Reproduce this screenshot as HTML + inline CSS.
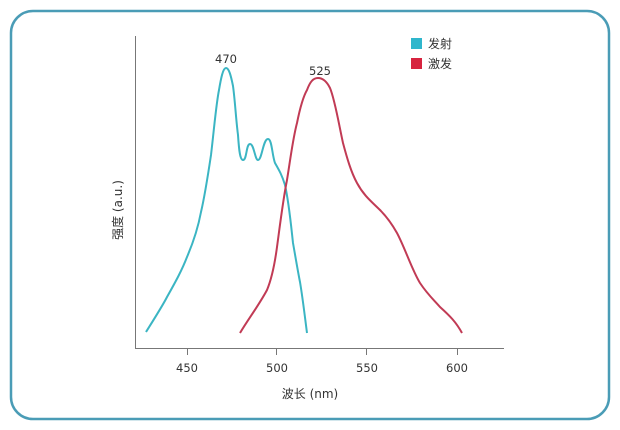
<!DOCTYPE html>
<html><head><meta charset="utf-8"><style>
html,body{margin:0;padding:0;background:#fff;}
svg{display:block;}
text{font-family:"DejaVu Sans","Liberation Sans","Noto Sans CJK SC",sans-serif;fill:#333;}
</style></head><body>
<svg width="620" height="430" viewBox="0 0 620 430" xmlns="http://www.w3.org/2000/svg">
<rect x="11" y="11" width="598" height="408" rx="22" ry="22" fill="#fff" stroke="#4a9cb6" stroke-width="2.5"/>
<line x1="135.5" y1="36" x2="135.5" y2="348.5" stroke="#777" stroke-width="1"/>
<line x1="135" y1="348.5" x2="504" y2="348.5" stroke="#777" stroke-width="1"/>
<g stroke="#777" stroke-width="1">
<line x1="187.5" y1="348" x2="187.5" y2="355"/>
<line x1="276.5" y1="348" x2="276.5" y2="355"/>
<line x1="366.5" y1="348" x2="366.5" y2="355"/>
<line x1="457.5" y1="348" x2="457.5" y2="355"/>
</g>
<g font-size="11.5" text-anchor="middle">
<text x="187" y="372">450</text>
<text x="277" y="372">500</text>
<text x="367" y="372">550</text>
<text x="457" y="372">600</text>
<text x="310" y="398" font-size="12">波长 (nm)</text>
<text x="226" y="63">470</text>
<text x="320" y="75">525</text>
</g>
<text transform="translate(122,210) rotate(-90)" text-anchor="middle" font-size="12">强度 (a.u.)</text>
<path fill="none" stroke="#3bb5c3" stroke-width="2" d="M146,332 C156,316 163,305 167,297 C176,281 182,270 187,257 C193,243 198,228 201,212 C205,195 208,175 211,155 C214,130 216,105 219,90 C221,78 223,68 226,68 C229,68 231,76 233,86 C235,100 236,120 238,135 C239,150 240,160 243,160 C247,160 246,144 250,144 C254,144 255,160 258,160 C262,160 263,139 268,139 C272,139 272,155 275,163 C279,170 282,175 285,185 C289,203 291,225 293,243 C296,260 298,272 300,282 C303,300 305,318 307,333"/>
<path fill="none" stroke="#c13b55" stroke-width="2" d="M240,333 C249,318 259,305 267,290 C272,278 275,262 277,247 C280,225 283,200 287,180 C291,155 293,138 297,123 C300,108 303,97 307,90 C310,82 313,78 318,78 C323,78 327,82 330,88 C335,100 339,125 343,143 C347,158 351,172 357,183 C364,196 372,202 380,210 C387,217 392,224 397,233 C405,248 412,270 420,283 C428,295 434,300 440,307 C450,316 456,322 462,333"/>
<rect x="411" y="38" width="11" height="11" fill="#2fb6cc"/>
<rect x="411" y="58" width="11" height="11" fill="#d7243f"/>
<text x="428" y="48" font-size="12">发射</text>
<text x="428" y="68" font-size="12">激发</text>
</svg>
</body></html>
